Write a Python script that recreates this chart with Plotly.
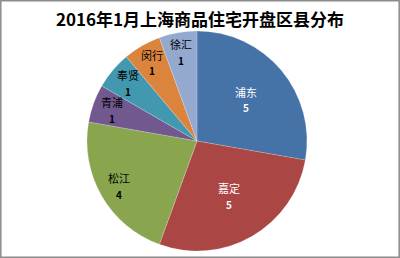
import math
import plotly.graph_objects as go

# District breakdown of new residential listings, Jan 2016
districts = ["浦东", "嘉定", "松江", "青浦", "奉贤", "闵行", "徐汇"]
counts = [5, 5, 4, 1, 1, 1, 1]
slice_colors = ["#4572A7", "#AA4643", "#89A54E", "#71588F", "#4198AF", "#DB843D", "#93A9CF"]

W, H = 400, 258
# pie placement (pixels)
CX, CY, R = 197, 141, 110
FONT = "Noto Sans CJK SC, sans-serif"

dom_x = [(CX - R) / W, (CX + R) / W]
dom_y = [(H - CY - R) / H, (H - CY + R) / H]

fig = go.Figure(
    go.Pie(
        labels=districts,
        values=counts,
        sort=False,
        direction="clockwise",
        rotation=0,
        marker=dict(colors=slice_colors, line=dict(color="rgba(255,255,255,0.4)", width=0.5)),
        textinfo="none",
        hoverinfo="label+value",
        showlegend=False,
        domain=dict(x=dom_x, y=dom_y),
    )
)

# Data labels: name above value, placed along each slice's mid-angle
annotations = []
total = sum(counts)
start = 0.0
for name, val in zip(districts, counts):
    share = val / total
    mid = (start + share / 2) * 2 * math.pi
    start += share
    frac = 0.58 if share > 0.25 else 0.82
    px = CX + math.sin(mid) * R * frac
    py = CY - math.cos(mid) * R * frac
    color = "#FFFFFF" if share > 0.25 else "#000000"
    annotations.append(dict(
        x=px / W, y=1 - (py - 8) / H, xref="paper", yref="paper",
        xanchor="center", yanchor="middle",
        text=name, showarrow=False,
        font=dict(size=11, color=color, family=FONT),
    ))
    annotations.append(dict(
        x=px / W, y=1 - (py + 8) / H, xref="paper", yref="paper",
        xanchor="center", yanchor="middle",
        text=f"<b>{val}</b>", showarrow=False,
        font=dict(size=10, color=color, family=FONT),
    ))

fig.update_layout(
    width=W,
    height=H,
    margin=dict(l=0, r=0, t=0, b=0),
    paper_bgcolor="white",
    plot_bgcolor="white",
    title=dict(
        text="<b>2016年1月上海商品住宅开盘区县分布</b>",
        x=0.5,
        xanchor="center",
        y=1 - 20 / H,
        yanchor="middle",
        font=dict(size=17, color="#000000", family=FONT),
    ),
    annotations=annotations,
    shapes=[
        dict(type="rect", xref="paper", yref="paper",
             x0=0.002, x1=0.998, y0=0.003, y1=0.997,
             line=dict(color="#8C8C8C", width=1.5))
    ],
)

fig.write_html("out.html")
